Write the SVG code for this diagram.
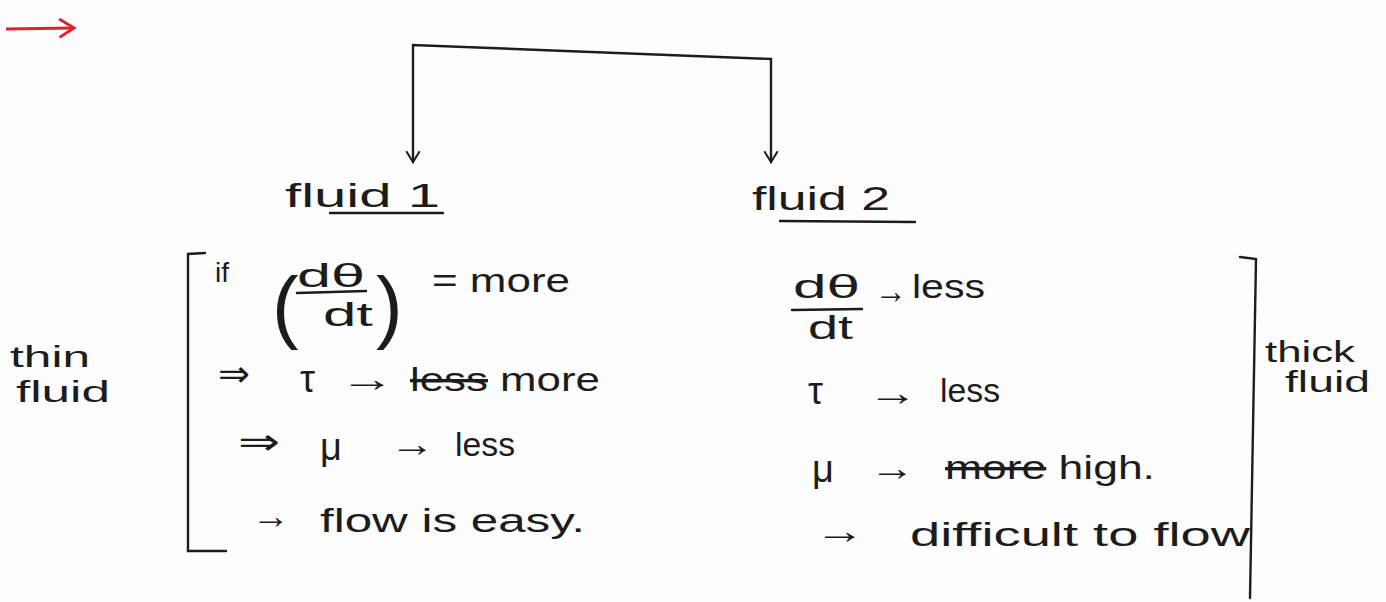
<svg xmlns="http://www.w3.org/2000/svg" width="1386" height="602" viewBox="0 0 1386 602">
<defs>
<marker id="ah" viewBox="0 0 12 12" refX="10" refY="6" markerWidth="16" markerHeight="16" markerUnits="userSpaceOnUse" orient="auto-start-reverse">
<path d="M2,1 L10,6 L2,11" fill="none" stroke="#1c1c1c" stroke-width="1.5"/>
</marker>
<marker id="rh" viewBox="0 0 12 12" refX="10" refY="6" markerWidth="22" markerHeight="22" markerUnits="userSpaceOnUse" orient="auto">
<path d="M2,1 L10,6 L2,11" fill="none" stroke="#e0202e" stroke-width="1.6"/>
</marker>
<style>
text{font-family:"Liberation Sans","DejaVu Sans",sans-serif;fill:#1c1c1c}
.t{font-size:34px}
.a{font-size:36px}
.lb{font-size:30px}
.ln{stroke:#1c1c1c;stroke-width:2.4;fill:none;stroke-linecap:round}
.st{text-decoration:line-through}
</style>
</defs>
<rect width="1386" height="602" fill="#fdfdfd"/>

<g id="red-arrow">
<line x1="6" y1="29" x2="74" y2="28" stroke="#e0202e" stroke-width="3" marker-end="url(#rh)"/>
</g>

<g id="connectors">
<polyline class="ln" points="413,162 413,45 771,59 771,162" marker-start="url(#ah)" marker-end="url(#ah)"/>
</g>

<g id="fluid1">
<text class="t" x="285" y="207" textLength="155" lengthAdjust="spacingAndGlyphs">fluid 1</text>
<line class="ln" x1="330" y1="213" x2="443" y2="213" stroke-width="1.8"/>
</g>

<g id="fluid2">
<text class="t" x="752" y="210" textLength="138" lengthAdjust="spacingAndGlyphs">fluid 2</text>
<line class="ln" x1="780" y1="221" x2="915" y2="222" stroke-width="1.8"/>
</g>

<g id="thin-fluid">
<text class="lb" x="10" y="367" textLength="80" lengthAdjust="spacingAndGlyphs">thin</text>
<text class="lb" x="16" y="402" textLength="94" lengthAdjust="spacingAndGlyphs">fluid</text>
<path class="ln" d="M205,253 L188,254 L188,551 L226,551"/>
</g>

<g id="thin-rows">
<text x="215" y="282" style="font-size:28px">if</text>
<text x="272" y="333" style="font-size:80px">(</text>
<text class="t" x="297" y="287" textLength="68" lengthAdjust="spacingAndGlyphs">dθ</text>
<line class="ln" x1="297" y1="293" x2="366" y2="291" stroke-width="1.8"/>
<text class="t" x="323" y="326" textLength="50" lengthAdjust="spacingAndGlyphs">dt</text>
<text x="376" y="333" style="font-size:80px">)</text>
<text class="t" x="432" y="292" textLength="138" lengthAdjust="spacingAndGlyphs">= more</text>

<text class="a" x="218" y="386" textLength="32" lengthAdjust="spacingAndGlyphs">⇒</text>
<text class="t" x="300" y="392" style="font-size:38px">τ</text>
<text class="a" x="340" y="391" textLength="55" lengthAdjust="spacingAndGlyphs">→</text>
<text class="t" x="410" y="391" textLength="190" lengthAdjust="spacingAndGlyphs"><tspan class="st">less</tspan> more</text>

<text class="a" x="238" y="454" textLength="42" lengthAdjust="spacingAndGlyphs">⇒</text>
<text class="t" x="320" y="460" style="font-size:38px">μ</text>
<text class="a" x="390" y="456" textLength="45" lengthAdjust="spacingAndGlyphs">→</text>
<text class="t" x="455" y="456" textLength="60" lengthAdjust="spacingAndGlyphs">less</text>

<text class="a" x="252" y="528" textLength="38" lengthAdjust="spacingAndGlyphs">→</text>
<text class="t" x="320" y="532" textLength="265" lengthAdjust="spacingAndGlyphs">flow is easy.</text>
</g>

<g id="thick-fluid">
<text class="lb" x="1265" y="362" textLength="90" lengthAdjust="spacingAndGlyphs">thick</text>
<text class="lb" x="1285" y="392" textLength="85" lengthAdjust="spacingAndGlyphs">fluid</text>
<path class="ln" d="M1240,257 L1256,259 L1250,598"/>
</g>

<g id="thick-rows">
<text class="t" x="793" y="298" textLength="67" lengthAdjust="spacingAndGlyphs">dθ</text>
<line class="ln" x1="792" y1="310" x2="862" y2="309" stroke-width="1.8"/>
<text class="t" x="808" y="339" textLength="45" lengthAdjust="spacingAndGlyphs">dt</text>
<text class="a" x="875" y="303" textLength="32" lengthAdjust="spacingAndGlyphs">→</text>
<text class="t" x="912" y="298" textLength="73" lengthAdjust="spacingAndGlyphs">less</text>

<text class="t" x="808" y="404" style="font-size:38px">τ</text>
<text class="a" x="868" y="405" textLength="50" lengthAdjust="spacingAndGlyphs">→</text>
<text class="t" x="940" y="402" textLength="60" lengthAdjust="spacingAndGlyphs">less</text>

<text class="t" x="812" y="482" style="font-size:38px">μ</text>
<text class="a" x="870" y="480" textLength="45" lengthAdjust="spacingAndGlyphs">→</text>
<text class="t" x="945" y="479" textLength="210" lengthAdjust="spacingAndGlyphs"><tspan class="st">more</tspan> high.</text>

<text class="a" x="815" y="543" textLength="50" lengthAdjust="spacingAndGlyphs">→</text>
<text class="t" x="910" y="546" textLength="340" lengthAdjust="spacingAndGlyphs">difficult to flow</text>
</g>
</svg>
